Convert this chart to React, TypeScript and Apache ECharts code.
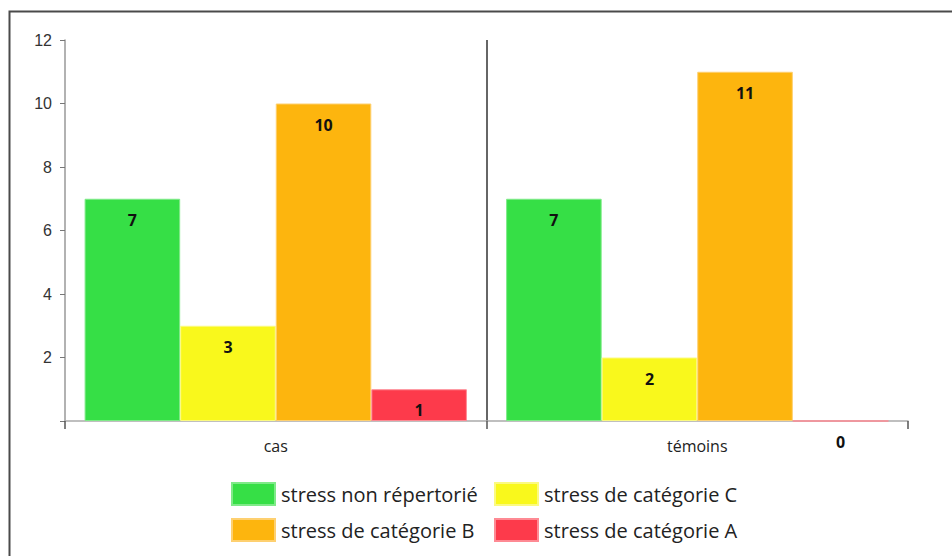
import React, { useEffect, useRef } from "react";
import * as echarts from "echarts";

const categories = ["cas", "témoins"];
const seriesNames = [
  "stress non répertorié",
  "stress de catégorie C",
  "stress de catégorie B",
  "stress de catégorie A",
];
const stressNonRepertorie = [7, 7];
const stressCategorieC = [3, 2];
const stressCategorieB = [10, 11];
const stressCategorieA = [1, 0];
const colors = ["#36df46", "#f9f81c", "#fdb50e", "#fd3a4b"];
const borderColors = ["#7fea88", "#fbfa80", "#fed070", "#fe8a94"];

const FONT = "'Open Sans', sans-serif";

export default function App() {
  const ref = useRef<HTMLDivElement>(null);
  useEffect(() => {
    if (!ref.current) return;
    const chart = echarts.init(ref.current, null, { renderer: "svg" });
    const values = [stressNonRepertorie, stressCategorieC, stressCategorieB, stressCategorieA];
    chart.setOption({
      animation: false,
      backgroundColor: "#ffffff",
      grid: { left: 65, right: 44, top: 40, bottom: 135, containLabel: false },
      graphic: [
        {
          type: "rect",
          shape: { x: 9.5, y: 11.5, width: 1000, height: 600 },
          style: { fill: "none", stroke: "#4a4a4a", lineWidth: 2 },
          silent: true,
        },
      ],
      legend: {
        left: 231,
        top: 482,
        width: 560,
        padding: 0,
        itemWidth: 43,
        itemHeight: 22,
        itemGap: 12,
        icon: "rect",
        data: seriesNames,
        textStyle: {
          fontFamily: FONT,
          fontSize: 20,
          lineHeight: 22,
          color: "#222",
          width: 201,
          padding: [0, 0, 0, 1],
        },
      },
      xAxis: {
        type: "category",
        data: categories,
        axisLine: { lineStyle: { color: "#aaaaaa", width: 1.5 } },
        axisTick: { show: true, length: 8, lineStyle: { color: "#555", width: 1.5 } },
        axisLabel: { fontFamily: FONT, fontSize: 16, color: "#222", margin: 17 },
        splitLine: {
          show: true,
          showMinLine: false,
          showMaxLine: false,
          lineStyle: { color: "#333", width: 1.5 },
        },
      },
      yAxis: {
        type: "value",
        min: 0,
        max: 12,
        interval: 2,
        axisLine: { show: true, lineStyle: { color: "#999999", width: 1.5 } },
        axisTick: { show: true, length: 5, lineStyle: { color: "#777" } },
        splitLine: { show: false },
        axisLabel: {
          fontFamily: "'Liberation Sans', Arial, sans-serif",
          fontSize: 16,
          color: "#333",
          margin: 13,
          formatter: (v: number) => (v === 0 ? "" : String(v)),
        },
      },
      series: seriesNames.map((name, i) => ({
        name,
        type: "bar",
        data: values[i],
        barGap: "0%",
        barCategoryGap: "9.3%",
        itemStyle: { color: colors[i], borderColor: borderColors[i], borderWidth: 1 },
        label: {
          show: true,
          position: ["50%", 21],
          align: "center",
          verticalAlign: "middle",
          fontFamily: FONT,
          fontWeight: "bold",
          fontSize: 16,
          color: "#111",
        },
      })),
    });
    return () => chart.dispose();
  }, []);
  return (
    <div
      ref={ref}
      style={{ position: "fixed", left: 0, top: 0, width: 952, height: 556 }}
    />
  );
}
